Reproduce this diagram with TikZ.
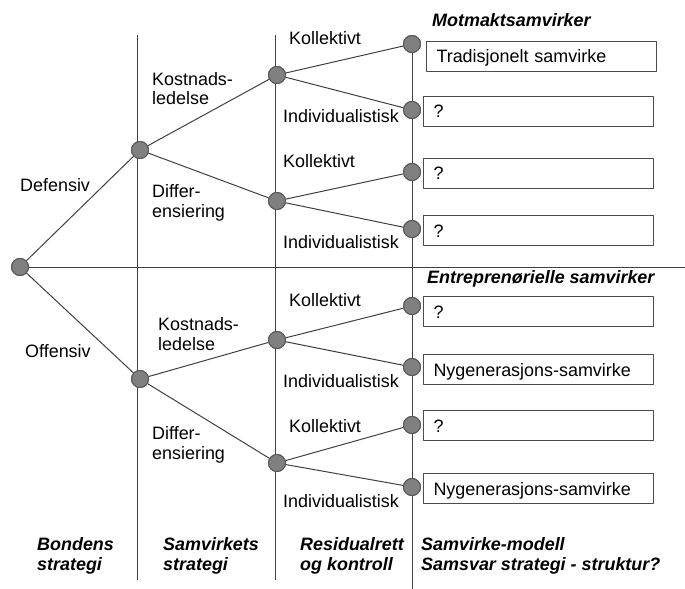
\documentclass[tikz,border=0pt]{standalone}
\usepackage{fontspec}
\setmainfont{Liberation Sans}
\begin{document}
\begin{tikzpicture}[x=1bp,y=-1bp,line join=bevel,
  dot/.style={circle,draw=black!65,fill=black!50,line width=1bp,minimum size=17bp,inner sep=0pt},
  lbl/.style={anchor=base west,inner sep=0pt,align=left,font=\fontsize{18}{20}\selectfont},
  head/.style={lbl,font=\fontsize{18}{20}\selectfont\bfseries\itshape},
  kasse/.style={draw=black!70,line width=1bp,anchor=north west,minimum height=30bp,text width=210bp,
    inner xsep=10bp,inner ysep=0pt,text height=13bp,text depth=0pt,align=left,font=\fontsize{18}{20}\selectfont},
  edge/.style={draw=black!75,line width=1bp}]
\useasboundingbox (0,0) rectangle (685,589);
%%
\coordinate (v1_top) at (137,35);
\coordinate (v1_bot) at (137,580);
\coordinate (v2_top) at (275,35);
\coordinate (v2_bot) at (275,580);
\coordinate (v3_bot) at (412,589);
\coordinate (h_end) at (685,267);
%
\node (node_r) at (20,267) [dot] {};
\node (node_a1) at (140,150) [dot] {};
\node (node_a2) at (140,379) [dot] {};
\node (node_b1) at (277,75) [dot] {};
\node (node_b2) at (277,201) [dot] {};
\node (node_b3) at (277,340) [dot] {};
\node (node_b4) at (277,463) [dot] {};
\node (node_c1) at (412,44) [dot] {};
\node (node_c2) at (412,110) [dot] {};
\node (node_c3) at (412,172) [dot] {};
\node (node_c4) at (412,229) [dot] {};
\node (node_c5) at (412,306) [dot] {};
\node (node_c6) at (412,367) [dot] {};
\node (node_c7) at (412,425) [dot] {};
\node (node_c8) at (412,487) [dot] {};
%
\draw [edge] (v1_top) -- (v1_bot);
\draw [edge] (v2_top) -- (v2_bot);
\draw [edge] (node_c1) -- (v3_bot);
\draw [edge] (node_r) -- (h_end);
\draw [edge] (node_r) -- (node_a1);
\draw [edge] (node_r) -- (node_a2);
\draw [edge] (node_a1) -- (node_b1);
\draw [edge] (node_a1) -- (node_b2);
\draw [edge] (node_a2) -- (node_b3);
\draw [edge] (node_a2) -- (node_b4);
\draw [edge] (node_b1) -- (node_c1);
\draw [edge] (node_b1) -- (node_c2);
\draw [edge] (node_b2) -- (node_c3);
\draw [edge] (node_b2) -- (node_c4);
\draw [edge] (node_b3) -- (node_c5);
\draw [edge] (node_b3) -- (node_c6);
\draw [edge] (node_b4) -- (node_c7);
\draw [edge] (node_b4) -- (node_c8);
% redraw dots on top of the lines
\foreach \n in {r,a1,a2,b1,b2,b3,b4,c1,c2,c3,c4,c5,c6,c7,c8}
  \node at (node_\n) [dot] {};
%
\node (lbl_def) at (20,192) [lbl] {Defensiv};
\node (lbl_off) at (25,357) [lbl] {Offensiv};
\node (lbl_kost1) at (152,105) [lbl] {Kostnads-\\ledelse};
\node (lbl_diff1) at (152,217) [lbl] {Differ-\\ensiering};
\node (lbl_kost2) at (158,350) [lbl] {Kostnads-\\ledelse};
\node (lbl_diff2) at (152,459) [lbl] {Differ-\\ensiering};
\node (lbl_kol1) at (289,45) [lbl] {Kollektivt};
\node (lbl_ind1) at (283,123) [lbl] {Individualistisk};
\node (lbl_kol2) at (283,168) [lbl] {Kollektivt};
\node (lbl_ind2) at (283,248) [lbl] {Individualistisk};
\node (lbl_kol3) at (289,306) [lbl] {Kollektivt};
\node (lbl_ind3) at (283,387) [lbl] {Individualistisk};
\node (lbl_kol4) at (289,432) [lbl] {Kollektivt};
\node (lbl_ind4) at (283,507) [lbl] {Individualistisk};
%
\node (head_mot) at (432,27) [head] {Motmaktsamvirker};
\node (head_ent) at (427,283) [head] {Entreprenørielle samvirker};
%
\node (box_1) at (426,41) [kasse] {Tradisjonelt samvirke};
\node (box_2) at (423,96) [kasse] {?};
\node (box_3) at (423,158) [kasse] {?};
\node (box_4) at (423,215) [kasse] {?};
\node (box_5) at (423,296) [kasse] {?};
\node (box_6) at (423,354) [kasse] {Nygenerasjons-samvirke};
\node (box_7) at (423,410) [kasse] {?};
\node (box_8) at (423,473) [kasse] {Nygenerasjons-samvirke};
%
\node (foot_1) at (37,570) [head] {Bondens\\strategi};
\node (foot_2) at (163,570) [head] {Samvirkets\\strategi};
\node (foot_3) at (300,570) [head] {Residualrett\\og kontroll};
\node (foot_4) at (421,570) [head] {Samvirke-modell\\Samsvar strategi - struktur?};
%
\end{tikzpicture}
\end{document}
